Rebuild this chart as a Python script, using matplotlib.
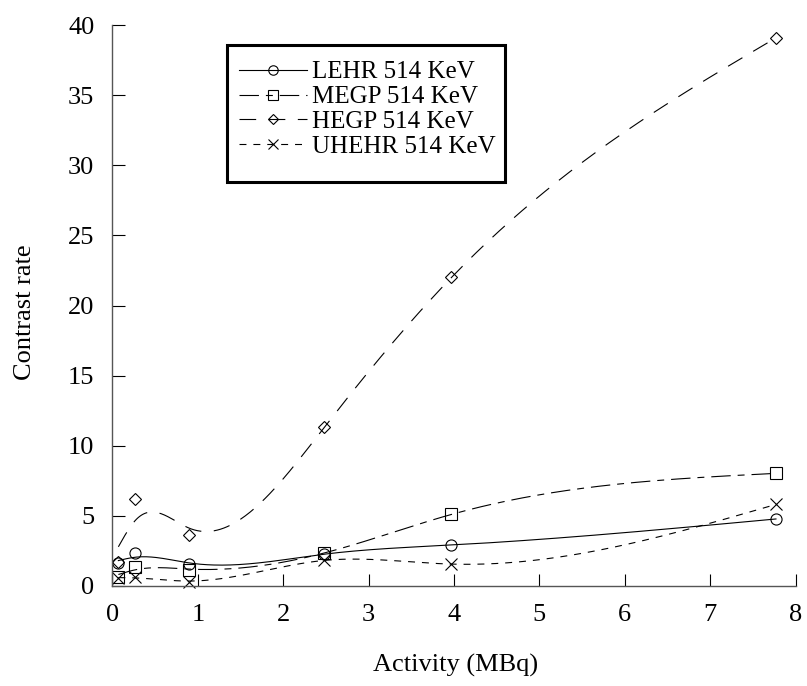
import numpy as np
import matplotlib
matplotlib.use("Agg")
import matplotlib.pyplot as plt
from matplotlib.lines import Line2D
from matplotlib.patches import Rectangle

plt.rcParams['font.family'] = ['Liberation Serif', 'DejaVu Serif']
plt.rcParams['lines.scale_dashes'] = False

# ---- data ----
activity = [0.07, 0.27, 0.90, 2.48, 3.97, 7.77]
lehr = [1.62, 2.33, 1.55, 2.28, 2.92, 4.78]
megp = [0.66, 1.38, 1.14, 2.35, 5.11, 8.03]
hegp = [1.73, 6.20, 3.63, 11.35, 22.0, 39.08]
uhehr = [0.55, 0.66, 0.30, 1.85, 1.55, 5.82]
labels = ["LEHR 514 KeV", "MEGP 514 KeV", "HEGP 514 KeV", "UHEHR 514 KeV"]

SMOOTH = 0.005


def smoothing_spline(x, y, lam, num=400):
    x = np.asarray(x, float)
    y = np.asarray(y, float)
    n = len(x)
    h = np.diff(x)
    Q = np.zeros((n, n - 2))
    R = np.zeros((n - 2, n - 2))
    for j in range(1, n - 1):
        Q[j - 1, j - 1] = 1.0 / h[j - 1]
        Q[j, j - 1] = -1.0 / h[j - 1] - 1.0 / h[j]
        Q[j + 1, j - 1] = 1.0 / h[j]
        R[j - 1, j - 1] = (h[j - 1] + h[j]) / 3.0
        if j < n - 2:
            R[j - 1, j] = h[j] / 6.0
            R[j, j - 1] = h[j] / 6.0
    K = Q @ np.linalg.solve(R, Q.T)
    g = np.linalg.solve(np.eye(n) + lam * K, y)
    gam = np.zeros(n)
    gam[1:-1] = np.linalg.solve(R, Q.T @ g)
    xs = np.linspace(x[0], x[-1], num)
    ys = np.empty_like(xs)
    for k, xv in enumerate(xs):
        i = min(np.searchsorted(x, xv, side='right') - 1, n - 2)
        hi = h[i]
        a = xv - x[i]
        b = x[i + 1] - xv
        ys[k] = (a * g[i + 1] + b * g[i]) / hi - a * b / 6.0 * (
            (1 + a / hi) * gam[i + 1] + (1 + b / hi) * gam[i])
    return xs, ys


fig = plt.figure(figsize=(8.07, 6.86), dpi=100)
ax = fig.add_axes([112.4 / 807, 1 - 586 / 686, (795.6 - 112.4) / 807, (586 - 25) / 686])

series = [lehr, megp, hegp, uhehr]
markers = ['o', 's', 'D', 'x']
msizes = [8, 8.5, 6.5, 9]
styles = ['-', (0, (14, 5, 5, 5)), (0, (12, 9)), (0, (5, 5))]
handles = []
for vals, mk, ms, ls, lab in zip(series, markers, msizes, styles, labels):
    xs, ys = smoothing_spline(activity, vals, SMOOTH)
    ax.plot(xs, ys, color='black', lw=0.8, ls=ls)
    ax.plot(activity, vals, ls='none', marker=mk, ms=ms, mfc='none', mec='black', mew=0.8,
            clip_on=False)
    handles.append(Line2D([], [], color='black', lw=0.8, ls=ls, marker=mk, ms=ms * 0.85,
                          mfc='none', mec='black', mew=0.8))

ax.set_xlim(0, 8)
ax.set_ylim(0, 40)
ax.set_xticks(range(0, 9))
ax.set_yticks(range(0, 41, 5))
for s in ['top', 'right']:
    ax.spines[s].set_visible(False)
for s in ['left', 'bottom']:
    ax.spines[s].set_color('#555555')
    ax.spines[s].set_linewidth(1.0)
ax.tick_params(direction='in', length=9, width=0.8, color='black', labelsize=19, pad=13)

fig.text(25 / 807, 1 - 312 / 686, "Contrast rate", rotation=90, ha='center', va='center', fontsize=19)
fig.text(456 / 807, 1 - 665 / 686, "Activity (MBq)", ha='center', va='center', fontsize=19)

leg = ax.legend(handles, labels, loc='upper left', bbox_to_anchor=(239 / 807, 1 - 61 / 686),
                bbox_transform=fig.transFigure, borderaxespad=0, fontsize=18,
                handlelength=2.7, handletextpad=0.24, labelspacing=0.09, borderpad=0.0,
                frameon=False, numpoints=1)
fig.patches.append(Rectangle((227 / 807, 1 - 182 / 686), (505 - 227) / 807, (182 - 45) / 686,
                             transform=fig.transFigure, fill=False, edgecolor='black',
                             linewidth=2.2, zorder=5))

fig.savefig("out.png", dpi=100)
